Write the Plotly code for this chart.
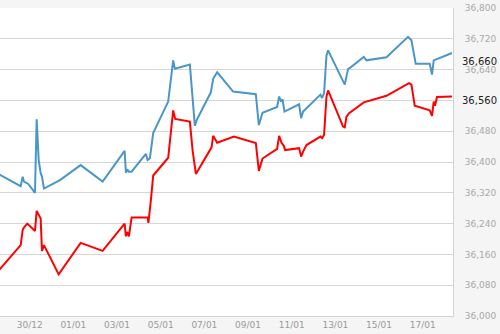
import plotly.graph_objects as go

blue_dates = [
    "2015-12-28 12:00", "2015-12-29 14:07", "2015-12-29 16:19", "2015-12-29 17:44", "2015-12-29 22:28",
    "2015-12-30 05:49", "2015-12-30 07:41", "2015-12-30 09:53", "2015-12-30 12:05", "2015-12-30 13:31",
    "2015-12-30 15:42", "2015-12-31 09:17", "2016-01-01 08:01", "2016-01-02 08:11", "2016-01-03 08:21",
    "2016-01-03 09:47", "2016-01-03 11:12", "2016-01-03 13:04", "2016-01-03 16:02", "2016-01-04 07:44",
    "2016-01-04 09:37", "2016-01-04 12:08", "2016-01-04 15:46", "2016-01-05 08:14", "2016-01-05 13:44",
    "2016-01-05 15:36", "2016-01-06 08:04", "2016-01-06 13:34", "2016-01-06 15:26", "2016-01-07 07:08",
    "2016-01-07 09:40", "2016-01-07 14:04", "2016-01-08 07:38", "2016-01-09 08:34", "2016-01-09 11:52",
    "2016-01-09 15:56", "2016-01-10 07:58", "2016-01-10 10:10", "2016-01-10 12:22", "2016-01-10 13:54",
    "2016-01-10 16:05", "2016-01-11 08:08", "2016-01-11 10:20", "2016-01-11 12:31", "2016-01-12 07:38",
    "2016-01-12 09:23", "2016-01-12 11:35", "2016-01-12 14:13", "2016-01-12 15:59", "2016-01-13 10:19",
    "2016-01-13 13:57", "2016-01-13 15:49", "2016-01-14 07:12", "2016-01-14 10:10", "2016-01-15 08:08",
    "2016-01-16 07:52", "2016-01-16 11:35", "2016-01-16 16:19", "2016-01-17 07:41", "2016-01-17 10:13",
    "2016-01-17 12:05", "2016-01-18 08:11",
]
blue_values = [
    36371, 36337, 36362, 36349, 36343,
    36320, 36511, 36405, 36371, 36362,
    36331, 36353, 36392, 36349, 36429,
    36372, 36381, 36375, 36375, 36421,
    36405, 36410, 36475, 36557, 36664,
    36642, 36653, 36494, 36508, 36581,
    36616, 36633, 36583, 36576, 36496,
    36528, 36543, 36570, 36557, 36563,
    36531, 36550, 36514, 36531, 36575,
    36566, 36579, 36676, 36690, 36601,
    36642, 36644, 36673, 36664, 36672,
    36725, 36716, 36655, 36655, 36627,
    36664, 36683,
]

red_dates = [
    "2015-12-28 12:00", "2015-12-29 14:07", "2015-12-29 16:19", "2015-12-29 17:44", "2015-12-29 21:22",
    "2015-12-30 05:49", "2015-12-30 07:41", "2015-12-30 09:53", "2015-12-30 12:05", "2015-12-30 13:31",
    "2015-12-30 15:42", "2015-12-31 07:51", "2016-01-01 08:01", "2016-01-02 08:11", "2016-01-03 08:21",
    "2016-01-03 09:47", "2016-01-03 11:12", "2016-01-03 13:04", "2016-01-03 16:02", "2016-01-04 09:37",
    "2016-01-04 10:29", "2016-01-04 13:14", "2016-01-04 15:46", "2016-01-05 08:14", "2016-01-05 13:44",
    "2016-01-05 15:56", "2016-01-06 08:04", "2016-01-06 11:02", "2016-01-06 14:40", "2016-01-07 07:55",
    "2016-01-07 09:40", "2016-01-07 14:04", "2016-01-08 08:24", "2016-01-09 08:34", "2016-01-09 11:52",
    "2016-01-09 15:56", "2016-01-10 07:58", "2016-01-10 10:10", "2016-01-10 12:48", "2016-01-10 15:19",
    "2016-01-10 16:45", "2016-01-11 08:08", "2016-01-11 10:20", "2016-01-11 12:31", "2016-01-11 16:16",
    "2016-01-12 07:38", "2016-01-12 09:23", "2016-01-12 11:35", "2016-01-12 14:13", "2016-01-12 15:59",
    "2016-01-13 08:27", "2016-01-13 10:19", "2016-01-13 12:11", "2016-01-13 15:03", "2016-01-14 07:12",
    "2016-01-15 08:08", "2016-01-16 08:58", "2016-01-16 11:35", "2016-01-16 15:13", "2016-01-17 07:41",
    "2016-01-17 10:13", "2016-01-17 12:05", "2016-01-17 13:30", "2016-01-17 15:43", "2016-01-18 08:11",
]
red_values = [
    36113, 36184, 36223, 36230, 36240,
    36221, 36273, 36262, 36253, 36169,
    36184, 36108, 36190, 36169, 36240,
    36207, 36218, 36207, 36256, 36256,
    36242, 36301, 36365, 36411, 36534,
    36512, 36505, 36431, 36369, 36438,
    36468, 36450, 36466, 36449, 36377,
    36409, 36434, 36468, 36450, 36442,
    36431, 36436, 36414, 36427, 36444,
    36466, 36462, 36470, 36570, 36586,
    36492, 36490, 36518, 36527, 36555,
    36572, 36605, 36601, 36546, 36534,
    36520, 36557, 36546, 36569, 36570,
]

last_labels = [("36,660", 36660), ("36,560", 36560)]
x_range = ["2015-12-28 15:23", "2016-01-18 09:17"]
y_ticks = list(range(36000, 36801, 80))
# the 36,560 tick label is hidden behind the current-value label in the reference
y_ticktext = ["" if v == 36560 else f"{v:,}" for v in y_ticks]

PAPER = "#f5f5f5"

fig = go.Figure()
fig.add_trace(go.Scatter(x=red_dates, y=red_values, mode="lines",
                         line=dict(color="#ff0000", width=2), showlegend=False))
fig.add_trace(go.Scatter(x=blue_dates, y=blue_values, mode="lines",
                         line=dict(color="#4a96c8", width=2), showlegend=False))

for txt, val in last_labels:
    fig.add_annotation(x=1, xref="paper", y=val, yref="y", text=txt, showarrow=False,
                       xanchor="left", yanchor="middle", xshift=8,
                       font=dict(family="DejaVu Sans", size=10, color="#222222"),
                       borderpad=0)

fig.update_layout(
    width=500, height=334,
    margin=dict(l=0, r=47, t=8, b=18, pad=0),
    paper_bgcolor=PAPER, plot_bgcolor="#ffffff",
    font=dict(family="DejaVu Sans", size=9, color="#a0a0a0"),
    xaxis=dict(type="date", range=x_range, tick0="2015-12-30", dtick=2 * 86400000,
               tickformat="%d/%m", showgrid=False, zeroline=False,
               showline=True, linecolor="#cfd4d8", linewidth=1,
               ticks="", tickfont=dict(color="#9a9a9a", size=9)),
    yaxis=dict(range=[36000, 36800], side="right", tickmode="array",
               tickvals=y_ticks, ticktext=y_ticktext,
               showgrid=True, gridcolor="#d6d6d6", gridwidth=1,
               zeroline=False, showline=True, linecolor="#cfd4d8", linewidth=1,
               ticks="", ticklabelstandoff=9, tickfont=dict(color="#a8a8a8", size=9)),
)

fig.write_html("out.html")
